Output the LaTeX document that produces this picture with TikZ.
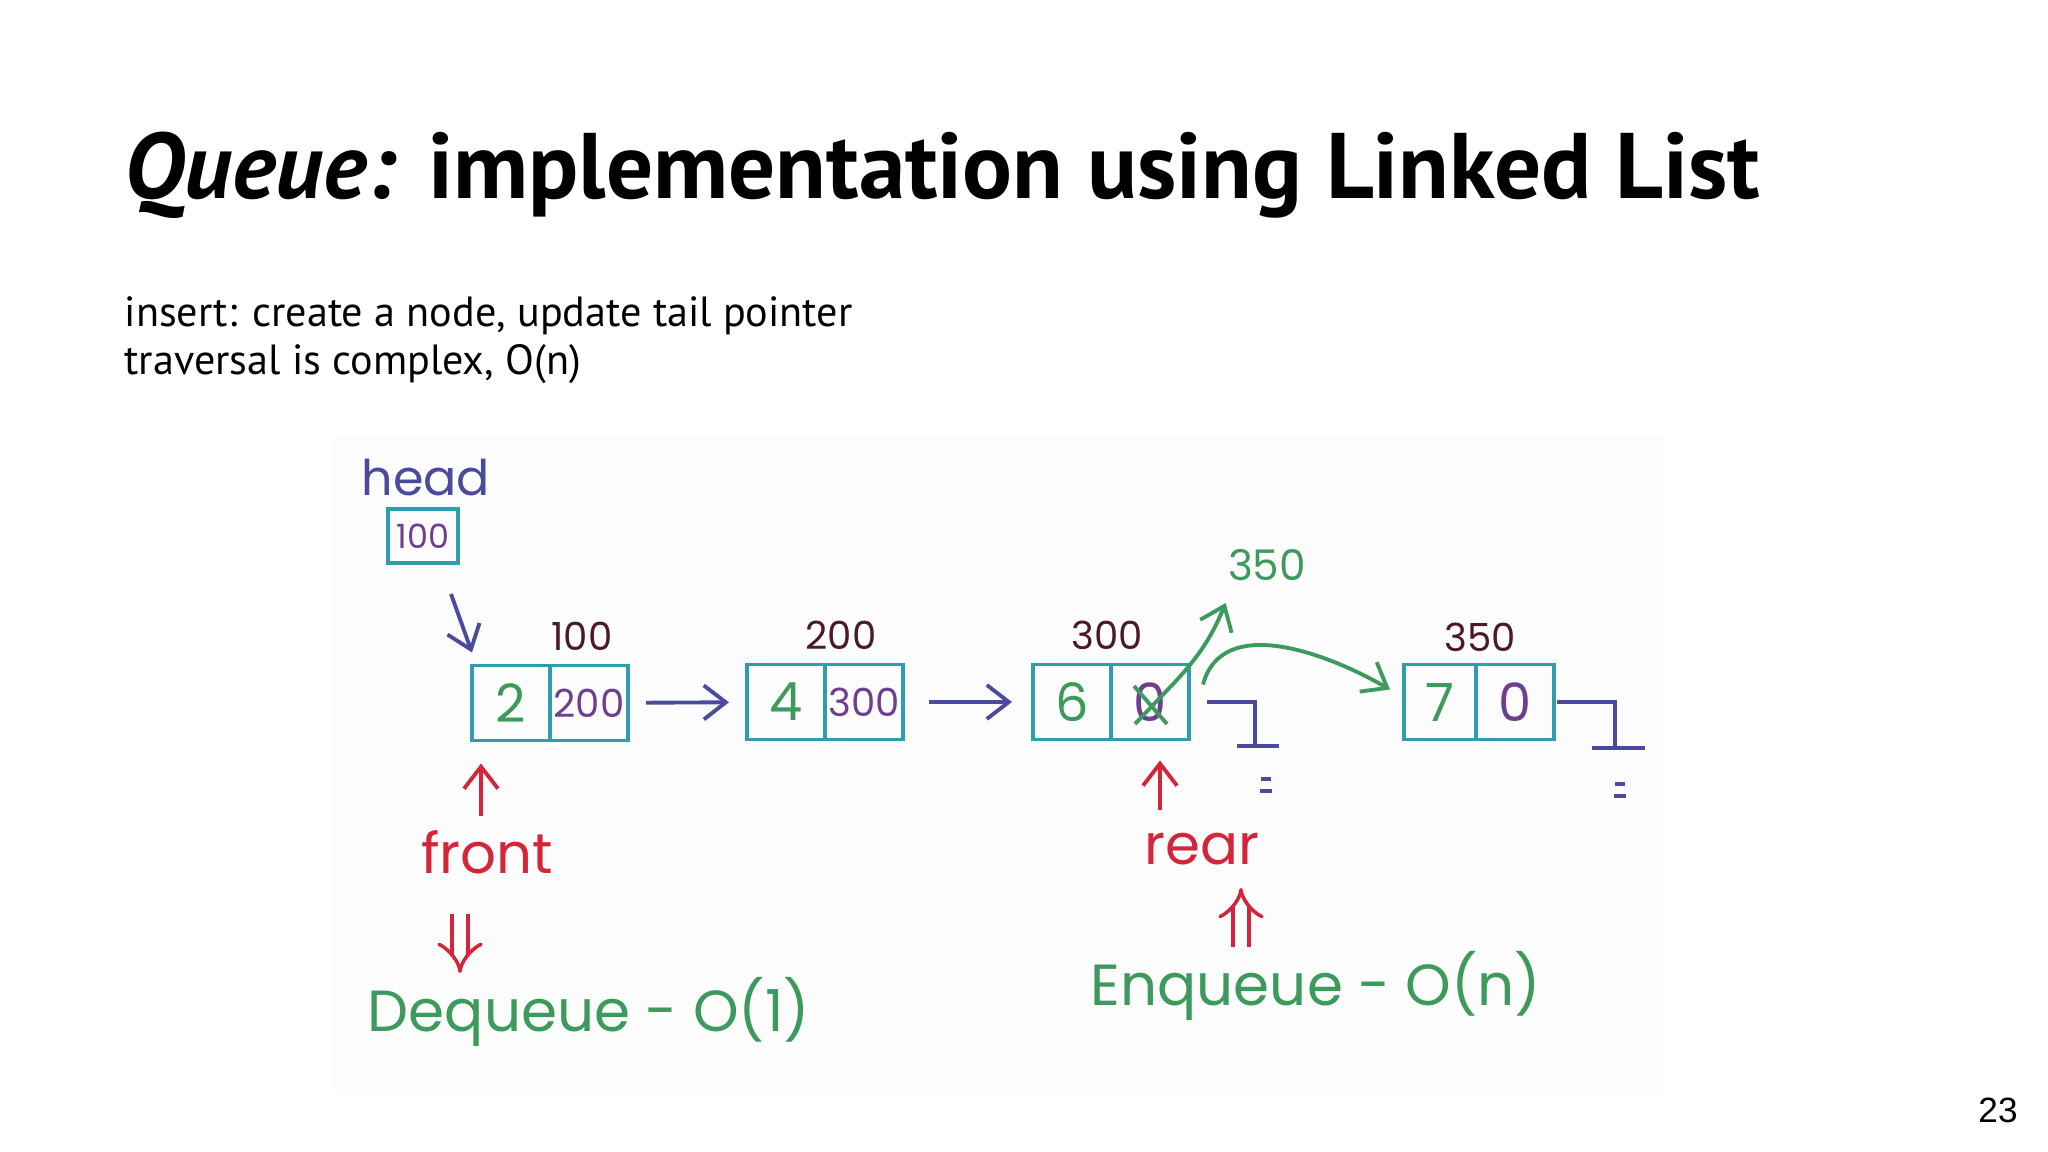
\documentclass[tikz,border=0pt]{standalone}
\usepackage{fontspec}
\setmainfont{PT Sans}
\newfontfamily\handfont{Poppins}
\newfontfamily\pagefont{Liberation Sans}
\usepackage{xcolor}
\usetikzlibrary{arrows.meta, positioning}
\definecolor{boxteal}{HTML}{2E9DB0}
\definecolor{inkblue}{HTML}{4B4A9C}
\definecolor{inkpurple}{HTML}{6E3F8E}
\definecolor{inkgreen}{HTML}{3C9A5C}
\definecolor{inkred}{HTML}{D3263A}
\definecolor{inkmaroon}{HTML}{4A1A2A}

\begin{document}
\begin{tikzpicture}[
    cell/.style={rectangle, draw=boxteal, line width=1.1pt, minimum width=0.78cm,
                 minimum height=0.75cm, inner sep=0pt, outer sep=0pt,
                 font=\handfont\fontsize{15}{15}\selectfont},
    datum/.style={cell, text=inkgreen},
    link/.style={cell, text=inkpurple, font=\handfont\fontsize{11}{11}\selectfont},
    addr/.style={font=\handfont\fontsize{11}{11}\selectfont, text=inkmaroon},
    hand/.style={font=\handfont\fontsize{16}{16}\selectfont},
    bighand/.style={font=\handfont\fontsize{16.5}{16.5}\selectfont, text=inkgreen},
    slidetext/.style={anchor=base west, inner sep=0pt},
    ptr/.style={-{Straight Barb[length=2.2mm, width=3.4mm]}, line width=1.1pt, color=inkblue},
    newptr/.style={ptr, color=inkgreen},
    flag/.style={ptr, color=inkred},
    bigflag/.style={double, double distance=3.5pt, line width=1pt, color=inkred, -{Implies}},
    ground/.style={line width=1.1pt, color=inkblue}
]
\useasboundingbox (0,0) rectangle (20.48,-11.52);

\node[slidetext, font=\bfseries\fontsize{26.5}{26.5}\selectfont] (title) at (1.24,-1.99)
    {\textit{Queue:} implementation using Linked List};
\node[slidetext, font=\fontsize{12}{12}\selectfont] (note1) at (1.24,-3.27)
    {insert: create a node, update tail pointer};
\node[slidetext, font=\fontsize{12}{12}\selectfont] (note2) at (1.24,-3.75)
    {traversal is complex, O(n)};
\node[font=\pagefont\fontsize{10}{10}\selectfont] (pageno) at (19.98,-11.10) {23};

\fill[black!1] (3.33,-4.37) rectangle (16.65,-10.90);

\node[hand, font=\handfont\fontsize{14}{14}\selectfont, text=inkblue] (headlbl) at (4.26,-4.78) {head};
\node[cell, minimum width=0.70cm, minimum height=0.54cm, text=inkpurple,
      font=\handfont\fontsize{9.5}{9.5}\selectfont] (headbox) at (4.23,-5.36) {100};

\node[datum] (n1d) at (5.11,-7.03) {2};
\node[link, right=0pt of n1d] (n1p) {200};
\node[datum] (n2d) at (7.86,-7.02) {4};
\node[link, right=0pt of n2d] (n2p) {300};
\node[datum] (n3d) at (10.72,-7.02) {6};
\node[cell, right=0pt of n3d, text=inkpurple] (n3p) {0};
\node[datum, minimum width=0.72cm] (n4d) at (14.40,-7.02) {7};
\node[cell, right=0pt of n4d, text=inkpurple] (n4p) {0};

\node[addr] (a1) at (5.82,-6.36) {100};
\node[addr] (a2) at (8.41,-6.35) {200};
\node[addr] (a3) at (11.07,-6.35) {300};
\node[addr] (a4) at (14.80,-6.37) {350};
\node[addr, text=inkgreen, font=\handfont\fontsize{12}{12}\selectfont] (newaddr) at (12.67,-5.65) {350};

\draw[ptr] ([xshift=-0.07cm, yshift=-0.31cm]headbox.south east) -- ([yshift=0.13cm]n1d.north west);
\draw[ptr, shorten <=1.8mm, shorten >=1.8mm] (n1p) -- (n2d);
\draw[ptr, shorten <=2.6mm, shorten >=2.1mm] (n2p) -- (n3d);

\draw[newptr, -] ([shift={(-0.16,0.16)}]n3p.center) -- ([shift={(0.17,-0.22)}]n3p.center);
\draw[newptr, -] ([shift={(-0.15,-0.22)}]n3p.center) -- ([shift={(0.25,0.20)}]n3p.center);
\draw[newptr] ([shift={(0.25,0.20)}]n3p.center) to[bend right=10] ([xshift=0.1cm, yshift=-0.1cm]newaddr.south west);
\draw[newptr] ([xshift=0.14cm, yshift=-0.2cm]n3p.north east) to[out=75, in=150] ([xshift=-0.14cm, yshift=-0.25cm]n4d.north west);

\draw[ground] ([xshift=0.18cm]n3p.east) -| ++(0.48,-0.44) coordinate (nil3);
\draw[ground] ([xshift=-0.18cm]nil3) -- ([xshift=0.24cm]nil3);
\draw[ground] ([shift={(0.06,-0.33)}]nil3) -- ++(0.1,0) ([shift={(0.05,-0.45)}]nil3) -- ++(0.12,0);
\draw[ground] ([xshift=0.03cm]n4p.east) -| ++(0.58,-0.46) coordinate (nil4);
\draw[ground] ([xshift=-0.23cm]nil4) -- ([xshift=0.30cm]nil4);
\draw[ground] ([shift={(0.0,-0.36)}]nil4) -- ++(0.1,0) ([shift={(-0.01,-0.48)}]nil4) -- ++(0.12,0);

\node[hand, text=inkred] (front) at (4.87,-8.52) {front};
\node[hand, text=inkred] (rear) at (12.02,-8.49) {rear};
\node[bighand] (deq) at (5.89,-10.12) {Dequeue - O(1)};
\node[bighand] (enq) at (13.16,-9.86) {Enqueue - O(n)};

\draw[flag, shorten <=3.6mm, shorten >=2.3mm] ([xshift=-0.06cm]front.center) -- ([xshift=-0.06cm]front.center |- n1d.south);
\draw[flag, shorten <=3.9mm, shorten >=2.1mm] ([xshift=0.1cm]rear -| n3p) -- ([xshift=0.1cm]n3p.south);
\draw[bigflag, shorten <=6.2mm, shorten >=3.9mm] ([xshift=-0.27cm]front.center) -- ([xshift=-0.27cm]front.center |- deq.center);
\draw[bigflag, shorten <=3.9mm, shorten >=3.9mm] ([xshift=0.39cm]rear.center |- enq.center) -- ([xshift=0.39cm]rear.center);
\end{tikzpicture}
\end{document}
